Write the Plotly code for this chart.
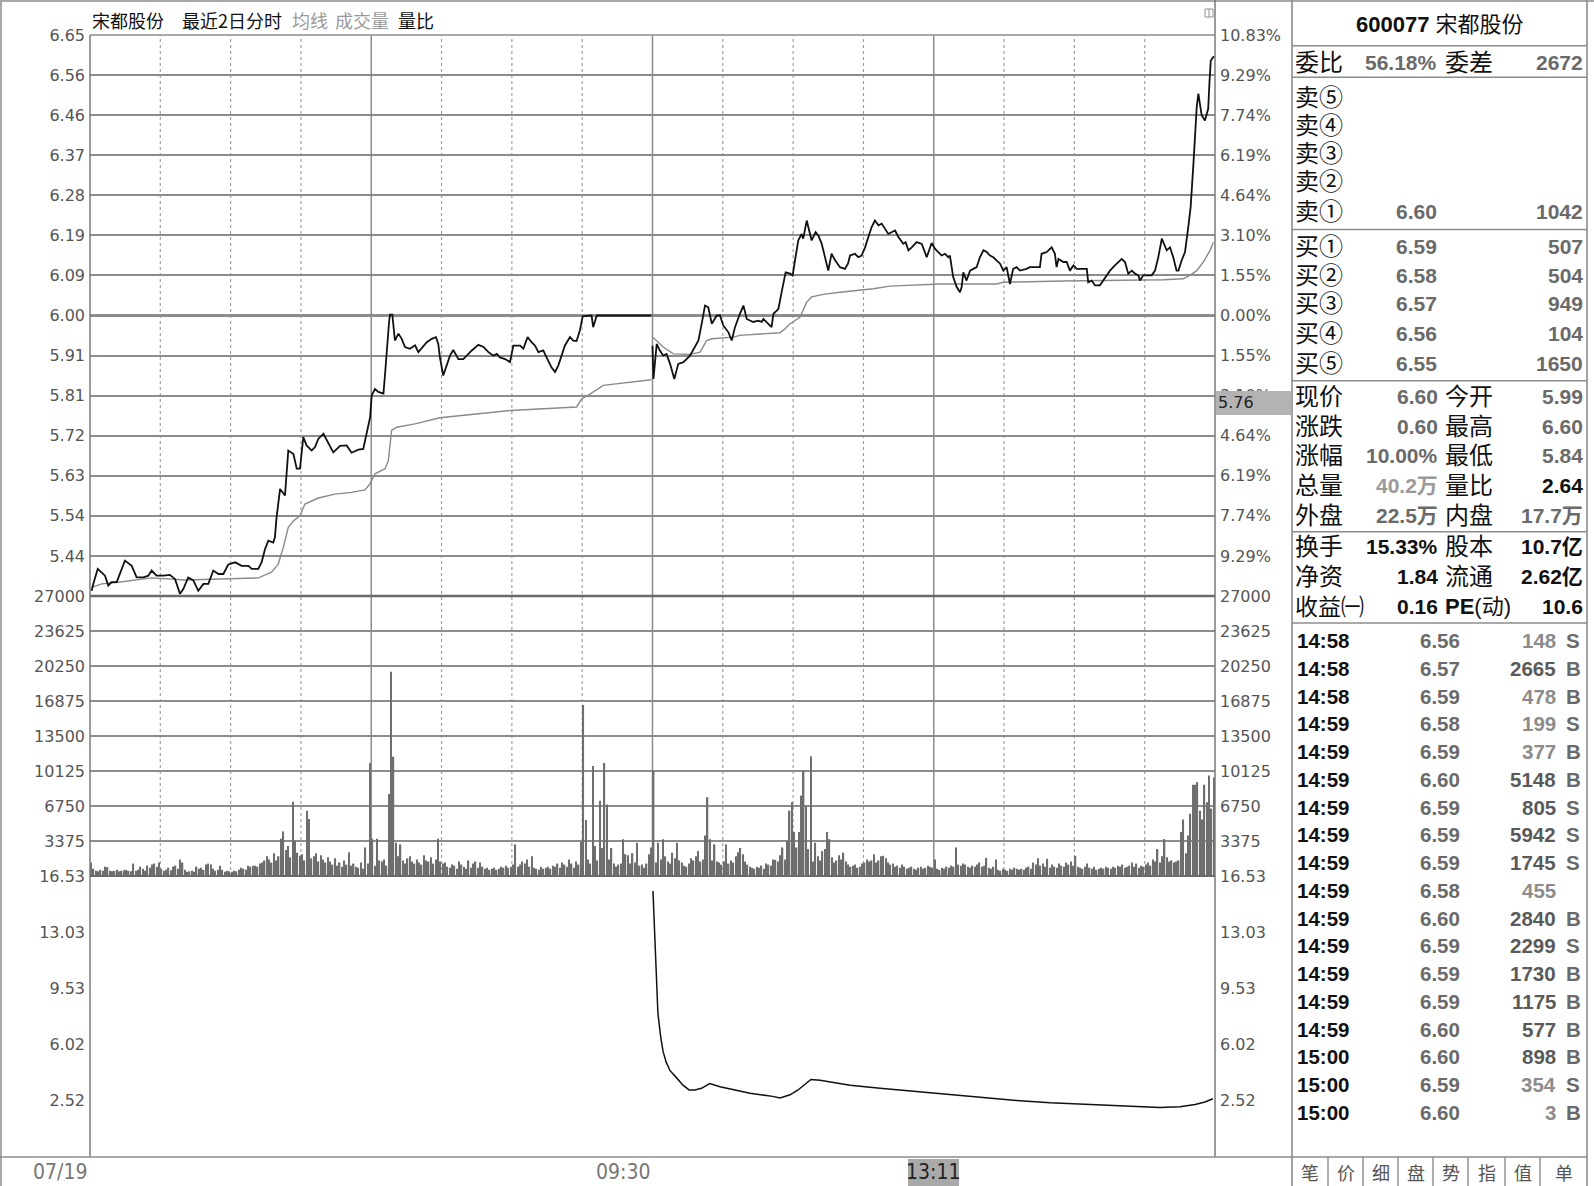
import plotly.graph_objects as go

W, H = 1594, 1186
X0, X1 = 90, 1215
P_TOP, P_BOT, V_BOT, R_BOT = 35, 596, 876, 1157

# ---------------- data ----------------
stock_name = "宋都股份"
stock_code = "600077"
prev_close = 6.00

price_tick_vals = [6.65, 6.5571, 6.4643, 6.3714, 6.2786, 6.1857, 6.0929, 6.00,
                   5.9071, 5.8143, 5.7214, 5.6286, 5.5357, 5.4429]
price_tick_left = ["6.65", "6.56", "6.46", "6.37", "6.28", "6.19", "6.09", "6.00",
                   "5.91", "5.81", "5.72", "5.63", "5.54", "5.44"]
price_tick_right = ["10.83%", "9.29%", "7.74%", "6.19%", "4.64%", "3.10%", "1.55%", "0.00%",
                    "1.55%", "3.10%", "4.64%", "6.19%", "7.74%", "9.29%"]
vol_ticks = [27000, 23625, 20250, 16875, 13500, 10125, 6750, 3375]
vol_tick_text = ["27000", "23625", "20250", "16875", "13500", "10125", "6750", "3375"]
ratio_ticks = [16.53, 13.03, 9.53, 6.02, 2.52]
ratio_tick_text = ["16.53", "13.03", "9.53", "6.02", "2.52"]

day_labels = ["07/19", "09:30"]
cursor_time = "13:11"
cursor_price = "5.76"

# minute index (0..480 over two sessions) and price
day1_price = [(0.7, 5.362), (1.4, 5.378), (3.3, 5.413), (5.0, 5.405), (6.4, 5.397), (7.8, 5.374),
    (9.2, 5.382), (11.4, 5.382), (12.8, 5.401), (14.9, 5.432), (17.8, 5.420), (19.9, 5.393),
    (22.8, 5.393), (24.9, 5.397), (26.3, 5.409), (28.4, 5.397), (31.3, 5.397), (34.1, 5.399),
    (36.3, 5.389), (38.4, 5.355), (39.8, 5.366), (41.9, 5.393), (44.1, 5.386), (46.2, 5.362),
    (48.4, 5.378), (50.5, 5.378), (52.6, 5.409), (54.8, 5.401), (56.9, 5.401), (59.0, 5.423),
    (61.9, 5.428), (64.7, 5.420), (67.6, 5.420), (69.0, 5.413), (71.8, 5.413), (73.2, 5.428),
    (74.7, 5.459), (76.1, 5.478), (78.2, 5.474), (78.9, 5.486), (79.6, 5.532), (81.1, 5.598),
    (83.2, 5.583), (83.9, 5.648), (84.6, 5.687), (86.8, 5.679), (88.2, 5.645), (89.6, 5.645),
    (91.0, 5.718), (92.4, 5.699), (94.6, 5.687), (96.0, 5.695), (97.4, 5.714), (99.6, 5.726),
    (101.7, 5.703), (103.8, 5.683), (106.7, 5.698), (109.5, 5.699), (111.6, 5.682), (114.5, 5.689),
    (116.6, 5.691), (118.0, 5.726), (119.5, 5.764), (120.2, 5.815), (121.6, 5.830), (123.0, 5.823),
    (125.2, 5.819), (125.9, 5.865), (126.6, 5.923), (127.6, 5.985), (128.0, 6.002), (129.0, 6.002),
    (130.1, 5.942), (131.6, 5.958), (133.0, 5.946), (134.4, 5.927), (136.5, 5.923), (138.7, 5.931),
    (140.1, 5.915), (141.5, 5.923), (143.7, 5.938), (145.8, 5.946), (147.6, 5.950), (148.6, 5.934),
    (149.3, 5.903), (150.7, 5.861), (152.2, 5.884), (153.6, 5.907), (155.0, 5.920), (157.2, 5.899),
    (159.3, 5.899), (160.7, 5.907), (162.9, 5.919), (165.7, 5.932), (167.9, 5.927), (170.0, 5.915),
    (172.1, 5.907), (173.6, 5.911), (174.9, 5.903), (177.1, 5.899), (179.2, 5.892), (180.6, 5.930),
    (183.5, 5.930), (184.9, 5.923), (186.7, 5.950), (188.4, 5.938), (189.9, 5.930), (191.3, 5.915),
    (193.4, 5.919), (194.8, 5.903), (196.9, 5.880), (198.4, 5.869), (199.8, 5.884), (201.2, 5.907),
    (202.6, 5.930), (204.8, 5.950), (206.2, 5.942), (207.6, 5.941), (209.0, 5.965), (210.2, 5.998),
    (214.0, 6.000), (214.7, 5.973), (216.2, 6.000), (239.5, 6.000)]

day1_avg = [(0.7, 5.370), (5.0, 5.378), (12.1, 5.382), (26.3, 5.392), (40.5, 5.387), (54.8, 5.389),
    (71.8, 5.392), (77.5, 5.405), (80.3, 5.424), (82.5, 5.463), (84.6, 5.509), (86.8, 5.524),
    (89.6, 5.536), (91.7, 5.563), (94.6, 5.571), (97.4, 5.577), (104.5, 5.586), (111.6, 5.590),
    (117.3, 5.596), (119.5, 5.610), (121.6, 5.633), (125.9, 5.645), (127.3, 5.664), (128.7, 5.734),
    (130.8, 5.741), (138.7, 5.749), (149.3, 5.763), (179.2, 5.780), (207.6, 5.788), (209.8, 5.807),
    (213.3, 5.818), (219.0, 5.838), (239.5, 5.851)]

day2_price = [(240.0, 5.930), (240.4, 5.853), (241.8, 5.934), (243.0, 5.920), (244.6, 5.907),
    (246.0, 5.911), (247.5, 5.888), (249.3, 5.853), (251.0, 5.888), (253.2, 5.892), (256.0, 5.907),
    (258.1, 5.927), (259.6, 5.942), (261.0, 5.981), (262.4, 6.023), (263.8, 6.019), (265.3, 5.981),
    (267.4, 6.000), (268.8, 6.000), (270.2, 5.977), (272.4, 5.961), (273.8, 5.942), (275.2, 5.973),
    (277.3, 6.004), (278.8, 6.023), (280.2, 5.992), (281.6, 5.988), (283.0, 5.985), (285.1, 5.988),
    (286.6, 5.985), (287.3, 5.992), (288.7, 5.985), (290.8, 5.973), (291.6, 6.004), (293.7, 6.015),
    (295.1, 6.054), (296.8, 6.100), (298.7, 6.097), (299.8, 6.093), (300.8, 6.128), (302.2, 6.174),
    (303.6, 6.189), (304.3, 6.178), (305.8, 6.220), (307.2, 6.189), (307.9, 6.174), (309.6, 6.193),
    (310.8, 6.185), (312.2, 6.166), (313.6, 6.135), (315.0, 6.104), (316.4, 6.143), (317.9, 6.128),
    (320.0, 6.112), (322.1, 6.108), (323.4, 6.120), (324.3, 6.139), (326.4, 6.143), (327.8, 6.135),
    (329.2, 6.139), (330.7, 6.158), (332.1, 6.182), (333.5, 6.205), (334.9, 6.220), (336.4, 6.209),
    (337.8, 6.213), (339.2, 6.201), (340.6, 6.189), (342.0, 6.193), (343.5, 6.197), (344.9, 6.182),
    (347.0, 6.166), (348.0, 6.170), (349.2, 6.151), (350.6, 6.158), (352.7, 6.170), (354.9, 6.166),
    (357.0, 6.135), (359.1, 6.168), (360.5, 6.155), (361.9, 6.147), (363.4, 6.139), (364.8, 6.143),
    (366.2, 6.135), (366.9, 6.139), (367.6, 6.112), (368.3, 6.089), (369.8, 6.066), (371.2, 6.054),
    (371.9, 6.066), (372.6, 6.100), (374.0, 6.081), (375.5, 6.104), (376.9, 6.108), (378.3, 6.112),
    (379.7, 6.135), (381.2, 6.151), (382.6, 6.147), (384.0, 6.139), (385.4, 6.135), (386.8, 6.128),
    (388.3, 6.120), (389.7, 6.104), (391.1, 6.112), (392.5, 6.073), (393.9, 6.108), (395.3, 6.112),
    (396.8, 6.104), (399.6, 6.108), (401.0, 6.112), (405.3, 6.112), (406.0, 6.143), (408.2, 6.147),
    (410.3, 6.158), (411.7, 6.143), (412.4, 6.112), (413.2, 6.131), (415.3, 6.124), (416.7, 6.124),
    (417.4, 6.116), (418.1, 6.104), (419.6, 6.116), (421.0, 6.108), (425.3, 6.108), (425.9, 6.077),
    (427.4, 6.081), (428.8, 6.070), (430.9, 6.070), (433.1, 6.089), (435.2, 6.104), (437.3, 6.116),
    (438.8, 6.124), (440.2, 6.131), (441.6, 6.124), (443.0, 6.097), (444.5, 6.104), (445.9, 6.097),
    (447.3, 6.093), (448.0, 6.081), (449.4, 6.093), (453.0, 6.093), (454.4, 6.104), (455.8, 6.135),
    (457.3, 6.178), (458.7, 6.162), (459.4, 6.151), (460.8, 6.158), (462.2, 6.135), (463.6, 6.104),
    (464.4, 6.104), (465.8, 6.128), (467.2, 6.147), (468.6, 6.205), (469.6, 6.251), (470.8, 6.352),
    (471.5, 6.413), (472.2, 6.483), (472.9, 6.514), (473.3, 6.498), (474.3, 6.464), (475.7, 6.452),
    (477.1, 6.479), (477.6, 6.537), (478.2, 6.591), (479.3, 6.599), (479.8, 6.600)]

day2_avg = [(240.0, 5.950), (244.6, 5.927), (248.9, 5.911), (256.0, 5.910), (260.3, 5.915),
    (263.1, 5.942), (265.3, 5.946), (274.5, 5.950), (277.3, 5.954), (284.4, 5.956), (294.4, 5.960),
    (296.5, 5.969), (298.7, 5.981), (302.9, 5.996), (305.8, 6.031), (307.9, 6.043), (312.9, 6.049),
    (320.0, 6.054), (327.1, 6.058), (334.2, 6.062), (341.3, 6.068), (348.4, 6.070), (362.7, 6.073),
    (386.8, 6.073), (389.7, 6.077), (415.3, 6.080), (443.7, 6.081), (458.0, 6.083), (466.5, 6.085),
    (469.3, 6.093), (472.2, 6.104), (475.0, 6.124), (477.9, 6.151), (479.3, 6.170)]

vol_day1 = [
    1300, 700, 500, 450, 600, 500, 900, 850, 500, 450,
    500, 600, 450, 500, 550, 600, 500, 450, 1200, 500,
    600, 900, 700, 500, 1000, 800, 1100, 1200, 900, 1300,
    700, 500, 600, 800, 550, 900, 1000, 700, 1600, 1300,
    600, 400, 450, 500, 400, 900, 700, 800, 600, 1100,
    1200, 1100, 700, 500, 600, 1000, 600, 400, 500, 450,
    400, 500, 450, 600, 800, 700, 600, 1000, 900, 1000,
    1000, 900, 1200, 1300, 1500, 1900, 1600, 1300, 2200, 1500,
    1900, 3600, 4300, 2500, 2900, 1800, 7150, 3400, 2250, 1950,
    2100, 1500, 6300, 5500, 1700, 1900, 2200, 1400, 2000, 1600,
    1300, 1800, 1400, 1100, 1700, 1000, 1300, 900, 1500, 1100,
    2300, 1000, 1200, 900, 800, 1300, 700, 2750, 1200, 10900,
    3600, 1000, 3600, 1500, 1400, 1600, 1000, 7900, 19700, 11500,
    3200, 1900, 3050, 1500, 1200, 1700, 1900, 1400, 1200, 1600,
    1300, 1100, 2000, 1500, 1400, 1800, 1200, 1600, 3600, 1400,
    1200, 1300, 900, 800, 1100, 1000, 700, 1400, 1100, 900,
    700, 1500, 800, 1200, 1400, 800, 1300, 900, 700, 800,
    600, 700, 800, 600, 700, 900, 800, 1000, 800, 900,
    1100, 3050, 900, 1100, 1400, 1200, 1600, 900, 1900, 800,
    700, 600, 900, 700, 800, 900, 700, 1000, 900, 1200,
    800, 1300, 1100, 900, 1600, 1200, 800, 1400, 1100, 3300,
    16500, 5400, 1600, 1200, 10600, 2900, 1500, 7250, 2700, 10900,
    6900, 1600, 2700, 1200, 900, 1100, 1200, 3550, 2100, 2000,
    1200, 2200, 1300, 3200, 1000, 1100, 800, 1200, 2100, 2750]

vol_day2 = [
    10150, 1300, 3200, 1600, 3550, 1900, 1400, 1200, 2250, 1700,
    3200, 1500, 1300, 1000, 900, 1200, 1700, 1500, 1900, 2400,
    1400, 1600, 3900, 7600, 3550, 1500, 3050, 1400, 1300, 1100,
    1400, 3050, 1200, 1500, 1300, 1900, 2300, 2700, 2100, 1400,
    1100, 900, 800, 700, 900, 800, 1000, 700, 1200, 1100,
    1000, 1600, 1550, 1400, 2000, 2750, 1600, 3400, 6300, 7100,
    4250, 2750, 4250, 7750, 10150, 6770, 2600, 11540, 1400, 3200,
    1900, 1500, 2400, 2600, 4250, 3550, 1800, 1300, 1500, 2000,
    1600, 2250, 1400, 1100, 900, 1000, 1100, 800, 900, 1200,
    1300, 1600, 1400, 1500, 2100, 1300, 1500, 1900, 1950, 1700,
    1300, 1100, 1200, 900, 1000, 800, 1100, 900, 700, 800,
    900, 700, 600, 800, 900, 700, 800, 1000, 900, 800,
    1600, 700, 600, 800, 700, 900, 800, 1000, 900, 2750,
    1100, 1000, 1200, 1100, 900, 800, 1000, 900, 1100, 1300,
    900, 1000, 1750, 800, 700, 900, 1600, 600, 500, 700,
    600, 500, 700, 600, 800, 700, 600, 700, 600, 800,
    900, 700, 1300, 1100, 1700, 1000, 1200, 900, 1650, 800,
    1100, 900, 800, 1200, 1000, 900, 1300, 1100, 1400, 1000,
    1950, 900, 800, 700, 900, 1200, 800, 700, 900, 600,
    700, 800, 700, 900, 800, 700, 900, 800, 1000, 900,
    1100, 800, 900, 1000, 1300, 900, 1200, 800, 1000, 900,
    1100, 1300, 1000, 1600, 1400, 2600, 1300, 1900, 3550, 1800,
    1400, 1500, 1300, 1400, 1500, 4250, 5450, 2200, 3900, 6000,
    8800, 8800, 9050, 6300, 5450, 8800, 7100, 9700, 6500, 9500]

ratio_line = [(240.2, 15.6), (240.8, 13.5), (241.4, 10.3), (242.3, 8.0), (243.5, 6.5), (244.5, 5.6),
    (245.8, 4.95), (247.5, 4.4), (250.0, 4.0), (253.0, 3.5), (255.6, 3.2), (258.1, 3.2), (260.9, 3.3),
    (264.4, 3.6), (268.8, 3.4), (275.2, 3.2), (281.6, 3.0), (291.2, 2.8), (294.4, 2.7), (298.7, 2.9),
    (302.1, 3.2), (307.6, 3.85), (311.5, 3.8), (317.9, 3.65), (324.3, 3.5), (337.1, 3.3), (352.0, 3.1),
    (366.9, 2.9), (379.7, 2.75), (395.3, 2.55), (409.6, 2.4), (424.5, 2.3), (438.6, 2.2), (448.0, 2.15),
    (456.5, 2.1), (465.1, 2.15), (471.5, 2.3), (475.7, 2.45), (479.1, 2.65)]

# right-hand quote panel
wei_row = ["委比", "56.18%", "委差", "2672"]
book_labels = ["卖⑤", "卖④", "卖③", "卖②", "卖①", "买①", "买②", "买③", "买④", "买⑤"]
book_prices = ["", "", "", "", "6.60", "6.59", "6.58", "6.57", "6.56", "6.55"]
book_vols = ["", "", "", "", "1042", "507", "504", "949", "104", "1650"]
stat_labels1 = ["现价", "涨跌", "涨幅", "总量", "外盘", "换手", "净资", "收益㈠"]
stat_values1 = ["6.60", "0.60", "10.00%", "40.2万", "22.5万", "15.33%", "1.84", "0.16"]
stat_labels2 = ["今开", "最高", "最低", "量比", "内盘", "股本", "流通", "<b>PE</b>(动)"]
stat_values2 = ["5.99", "6.60", "5.84", "2.64", "17.7万", "10.7亿", "2.62亿", "10.6"]
trade_times = ["14:58", "14:58", "14:58", "14:59", "14:59", "14:59", "14:59", "14:59", "14:59",
               "14:59", "14:59", "14:59", "14:59", "14:59", "14:59", "15:00", "15:00", "15:00"]
trade_prices = ["6.56", "6.57", "6.59", "6.58", "6.59", "6.60", "6.59", "6.59", "6.59",
                "6.58", "6.60", "6.59", "6.59", "6.59", "6.60", "6.60", "6.59", "6.60"]
trade_vols = [148, 2665, 478, 199, 377, 5148, 805, 5942, 1745, 455, 2840, 2299, 1730, 1175, 577, 898, 354, 3]
trade_sides = ["S", "B", "B", "S", "B", "B", "S", "S", "S", "", "B", "S", "B", "B", "B", "B", "S", "B"]
tabs = ["笔", "价", "细", "盘", "势", "指", "值", "单"]

# ---------------- helpers ----------------
def px(x):
    return x / W

def py(y):
    return 1 - y / H

CJK = "Noto Sans CJK SC"
LAB = "Liberation Sans, Noto Sans CJK SC"   # Latin primary font keeps line boxes compact
NUM = "Liberation Sans, Noto Sans CJK SC"
AX = "DejaVu Sans"
NARROW = "Liberation Sans Narrow, DejaVu Sans Condensed, Liberation Sans"

annotations = []
shapes = []

def txt(x, y, s, size, color, family, xanchor="left", bold=False):
    annotations.append(dict(x=px(x), y=py(y), xref="paper", yref="paper",
                            text=("<b>%s</b>" % s) if bold else s, showarrow=False,
                            xanchor=xanchor, yanchor="middle", borderpad=0, borderwidth=0,
                            font=dict(size=size, color=color, family=family)))

def line(x0, y0, x1, y1, color, width, dash="solid", layer="above"):
    shapes.append(dict(type="line", xref="paper", yref="paper",
                       x0=px(x0), y0=py(y0), x1=px(x1), y1=py(y1), layer=layer,
                       line=dict(color=color, width=width, dash=dash)))

def rect(x0, y0, x1, y1, fill, color=None, layer="above"):
    shapes.append(dict(type="rect", xref="paper", yref="paper",
                       x0=px(x0), y0=py(y0), x1=px(x1), y1=py(y1), layer=layer,
                       fillcolor=fill, line=dict(color=color or fill, width=1 if color else 0)))

# ---------------- traces ----------------
fig = go.Figure()

def add_line(pairs, color, width, yaxis="y"):
    t, v = zip(*pairs)
    fig.add_trace(go.Scatter(x=list(t), y=list(v), mode="lines", yaxis=yaxis,
                             line=dict(color=color, width=width), hoverinfo="skip",
                             showlegend=False))

add_line(day1_avg, "#8a8a8a", 1.4)
add_line(day2_avg, "#8a8a8a", 1.4)
add_line(day1_price, "#111111", 1.8)
add_line(day2_price, "#111111", 1.8)

vols = vol_day1 + vol_day2
fig.add_trace(go.Bar(x=[i + 0.5 for i in range(len(vols))], y=vols, yaxis="y2", width=0.6,
                     marker=dict(color="#6e6e6e", line=dict(width=0)), hoverinfo="skip",
                     showlegend=False))
add_line(ratio_line, "#111111", 1.5, yaxis="y3")

for ax in ["y4", "y5", "y6"]:
    fig.add_trace(go.Scatter(x=[None], y=[None], yaxis=ax, mode="lines",
                             showlegend=False, hoverinfo="skip"))

# ---------------- grid & frame ----------------
for m in range(30, 480, 30):
    solid = m % 120 == 0
    shapes.append(dict(type="line", xref="x", yref="paper", x0=m, x1=m,
                       y0=py(V_BOT), y1=py(P_TOP), layer="below",
                       line=dict(color="#8c8c8c" if solid else "#a0a0a0",
                                 width=1.5 if solid else 1.2,
                                 dash="solid" if solid else "dot")))
shapes.append(dict(type="line", xref="paper", yref="y", x0=px(X0), x1=px(X1), y0=prev_close,
                   y1=prev_close, layer="below", line=dict(color="#6a6a6a", width=2.6)))

line(0, 1, W, 1, "#a8a8a8", 2)
line(1, 0, 1, H, "#a8a8a8", 2)
line(X0, P_TOP, X1, P_TOP, "#8c8c8c", 1.5)
line(X0, P_TOP, X0, R_BOT, "#7a7a7a", 1.5)
line(X1, 0, X1, R_BOT, "#7a7a7a", 1.5)
line(X0, P_BOT, X1, P_BOT, "#6a6a6a", 2.6)
line(X0, V_BOT, X1, V_BOT, "#6a6a6a", 2.2)
line(0, R_BOT, 1292, R_BOT, "#8c8c8c", 1.6)
line(1292, 0, 1292, H, "#8c8c8c", 1.6)
line(1587, 0, 1587, H, "#8c8c8c", 1.6)
for yy in [45.7, 77.3, 229.5, 380.7, 531.7, 623]:
    line(1292, yy, 1587, yy, "#8c8c8c", 1.6)
line(1292, R_BOT, 1587, R_BOT, "#8c8c8c", 1.6)

# small icon in the corner
rect(1205, 9, 1213, 17, "rgba(0,0,0,0)", "#909090")
line(1209, 9, 1209, 17, "#909090", 1)

# ---------------- header ----------------
txt(92, 20.5, stock_name, 18, "#111", CJK)
txt(182, 20.5, "最近2日分时", 18, "#111", CJK)
txt(292, 20.5, "均线", 18, "#9a9a9a", CJK)
txt(335, 20.5, "成交量", 18, "#9a9a9a", CJK)
txt(398, 20.5, "量比", 18, "#111", CJK)

# ---------------- bottom time labels ----------------
txt(87, 1172, day_labels[0], 21, "#777", NARROW, xanchor="right")
txt(650, 1172, day_labels[1], 21, "#777", NARROW, xanchor="right")
rect(908, 1159, 959, H, "#a9a9a9")
txt(933.5, 1172, cursor_time, 21, "#222", NARROW, xanchor="center")
rect(1216, 391, 1291, 415, "#b3b3b3")
txt(1218, 403, cursor_price, 16, "#222", AX)

# ---------------- quote panel ----------------
GRAY, DARK, LIGHT = "#6a6a6a", "#111111", "#9a9a9a"
LX, C1R, L2X, C2R = 1295, 1437, 1445, 1583
txt(1440, 25, "<b>%s</b> %s" % (stock_code, stock_name), 22, DARK, NUM, xanchor="center")
txt(LX, 63, wei_row[0], 24, DARK, LAB)
txt(C1R, 63, wei_row[1], 21, GRAY, NUM, xanchor="right", bold=True)
txt(L2X, 63, wei_row[2], 24, DARK, LAB)
txt(C2R, 63, wei_row[3], 21, GRAY, NUM, xanchor="right", bold=True)

book_y = [97, 125, 153.5, 182, 211.5, 246, 275, 304, 334, 363]
for yy, lab, pr, vo in zip(book_y, book_labels, book_prices, book_vols):
    txt(LX, yy, lab, 24, DARK, LAB)
    if pr:
        txt(C1R, yy, pr, 21, GRAY, NUM, xanchor="right", bold=True)
        txt(C2R, yy, vo, 21, GRAY, NUM, xanchor="right", bold=True)

stat_y = [396, 426.5, 456, 486, 516, 546.5, 576.5, 606.5]
col1_colors = [GRAY, GRAY, GRAY, LIGHT, GRAY, DARK, DARK, DARK]
col2_colors = [GRAY, GRAY, GRAY, DARK, GRAY, DARK, DARK, DARK]
for i, yy in enumerate(stat_y):
    lab1 = stat_labels1[i]
    txt(LX, yy, lab1, 24 if len(lab1) < 3 else 23, DARK, LAB)
    txt(C1R + 1, yy, stat_values1[i], 21, col1_colors[i], NUM, xanchor="right", bold=True)
    txt(L2X, yy, stat_labels2[i], 24 if "PE" not in stat_labels2[i] else 22, DARK, LAB)
    txt(C2R, yy, stat_values2[i], 21, col2_colors[i], NUM, xanchor="right", bold=True)

for k in range(len(trade_times)):
    yy = 640.5 + k * 27.75
    txt(1297, yy, trade_times[k], 20.5, DARK, NUM, bold=True)
    txt(1460, yy, trade_prices[k], 20.5, GRAY, NUM, xanchor="right", bold=True)
    vcol = "#5a5a5a" if trade_vols[k] >= 500 else "#8c8c8c"
    txt(1556, yy, str(trade_vols[k]), 20.5, vcol, NUM, xanchor="right", bold=True)
    if trade_sides[k]:
        txt(1566, yy, trade_sides[k], 20.5, GRAY, NUM, bold=True)

tab_edges = [1292, 1328, 1363, 1398, 1433, 1468, 1505, 1540, 1587]
for i, tb in enumerate(tabs):
    txt((tab_edges[i] + tab_edges[i + 1]) / 2, 1172, tb, 18, "#555", CJK, xanchor="center")
for e in tab_edges[1:-1]:
    line(e, R_BOT, e, H, "#8c8c8c", 1.4)

# ---------------- layout ----------------
tickfont = dict(family=AX, size=16, color="#555")
common = dict(ticks="", showline=False, zeroline=False, fixedrange=True, tickfont=tickfont,
              ticklabelstandoff=4, automargin=False)
dom_p = [py(P_BOT), py(P_TOP)]
dom_v = [py(V_BOT), py(P_BOT)]
dom_r = [py(R_BOT), py(V_BOT)]
fig.update_layout(
    width=W, height=H, margin=dict(l=0, r=0, t=0, b=0, pad=0, autoexpand=False),
    paper_bgcolor="white", plot_bgcolor="white", showlegend=False, hovermode=False,
    xaxis=dict(domain=[px(X0), px(X1)], range=[0, 480], showgrid=False, zeroline=False,
               showticklabels=False, ticks="", anchor="y3", fixedrange=True, automargin=False),
    yaxis=dict(domain=dom_p, range=[5.35, 6.65], tickvals=price_tick_vals, ticktext=price_tick_left,
               showgrid=True, gridcolor="#8c8c8c", gridwidth=1.5, anchor="x", **common),
    yaxis2=dict(domain=dom_v, range=[0, 27000], tickvals=vol_ticks, ticktext=vol_tick_text,
                showgrid=True, gridcolor="#8c8c8c", gridwidth=1.5, anchor="x", **common),
    yaxis3=dict(domain=dom_r, range=[-0.977, 16.53], tickvals=ratio_ticks, ticktext=ratio_tick_text,
                showgrid=False, anchor="x", **common),
    yaxis4=dict(overlaying="y", side="right", range=[5.35, 6.65], tickvals=price_tick_vals,
                ticktext=price_tick_right, showgrid=False, anchor="x", **common),
    yaxis5=dict(overlaying="y2", side="right", range=[0, 27000], tickvals=vol_ticks,
                ticktext=vol_tick_text, showgrid=False, anchor="x", **common),
    yaxis6=dict(overlaying="y3", side="right", range=[-0.977, 16.53], tickvals=ratio_ticks,
                ticktext=ratio_tick_text, showgrid=False, anchor="x", **common),
    shapes=shapes, annotations=annotations,
)

fig.write_html("out.html", config={"displayModeBar": False},
               post_script="document.body.style.margin='0';")
